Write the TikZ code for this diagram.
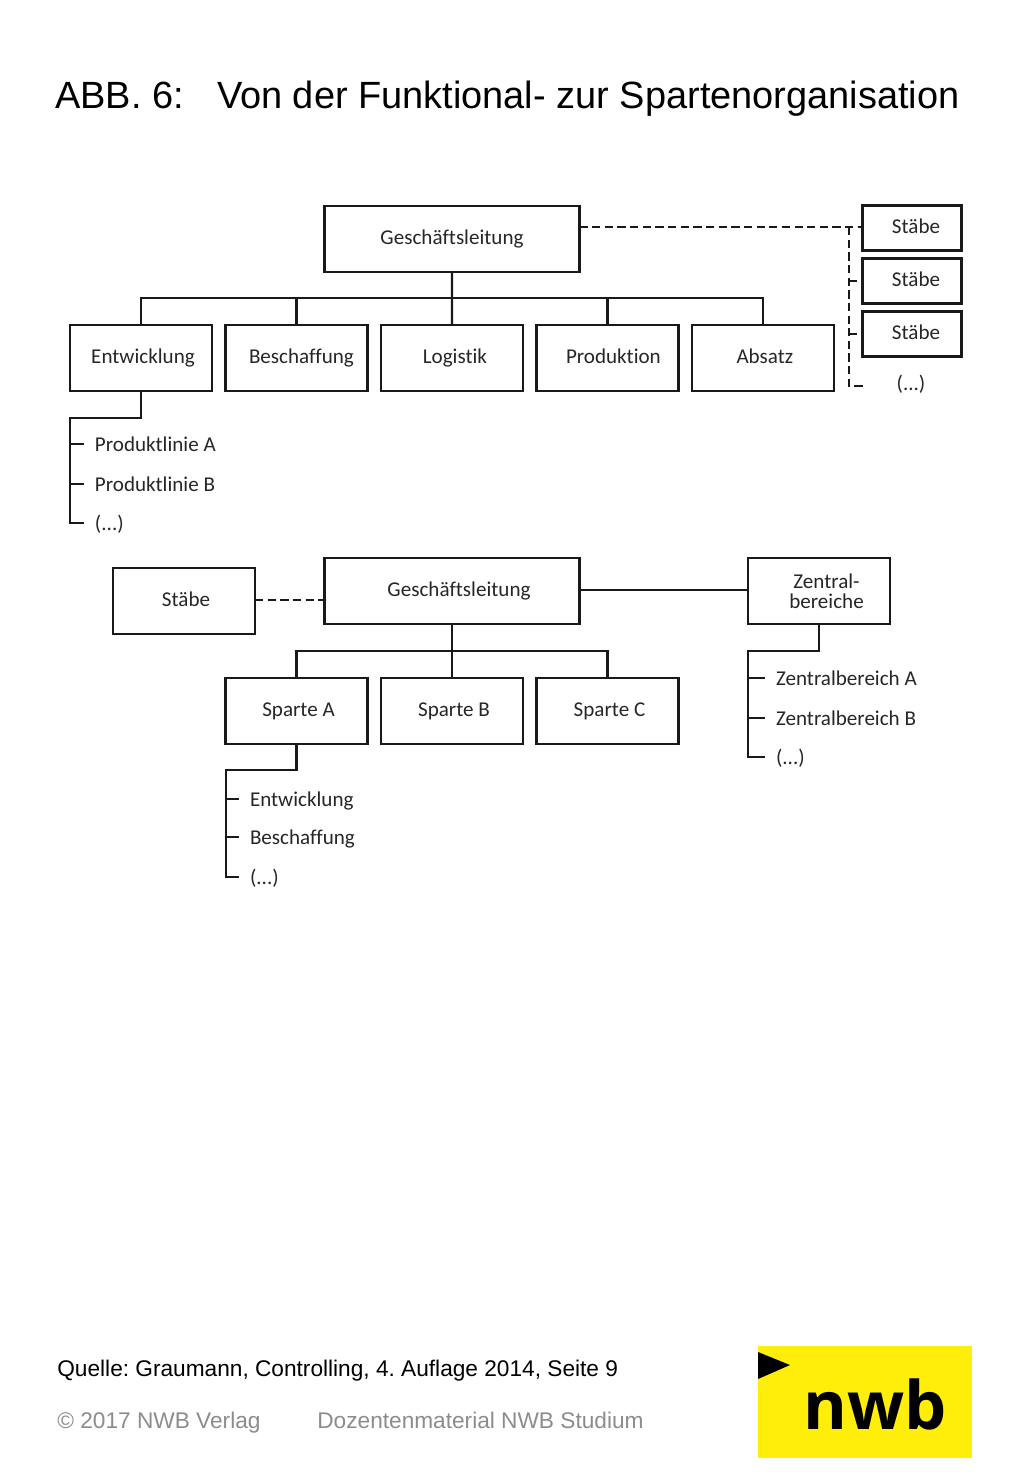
\documentclass[tikz,border=0pt]{standalone}
\usepackage{fontspec}
\setmainfont{Liberation Sans}
\newfontfamily\orgfont[Ligatures=NoCommon]{Carlito}
\newfontfamily\logofont{Open Sans}
\usepackage{xcolor}
\usetikzlibrary{positioning}
\definecolor{nwbyellow}{HTML}{FFED0A}
\definecolor{footgray}{HTML}{8C8C8C}
\newcommand{\orgstrut}{\rule[-2.7pt]{0pt}{11.2pt}}

\begin{document}
\frenchspacing
\begin{tikzpicture}[
  x=0.02cm, y=-0.02cm,
  node distance=0.27cm and 0.27cm,
  orgtext/.style={font=\orgfont\fontsize{12}{11.6}\selectfont, text=black!85},
  orgbox/.style={orgtext, draw=black!90, line width=1.3pt, minimum width=2.84cm, minimum height=1.32cm,
    inner sep=0pt, outer sep=0pt, align=center, execute at begin node=\orgstrut},
  nudge/.style={execute at begin node={\orgstrut\hspace*{#1}}},
  headbox/.style={orgbox, minimum width=5.1cm},
  staffbox/.style={orgbox, minimum width=1.98cm, minimum height=0.9cm},
  leaf/.style={orgtext, anchor=west, inner ysep=0pt, inner xsep=0.22cm, outer sep=0pt,
    text height=8pt, text depth=0pt},
  line/.style={draw=black!90, line width=1.3pt},
  dashline/.style={line, dash pattern=on 4.7pt off 2.5pt},
  foot/.style={anchor=base west, inner sep=0pt, font=\fontsize{12.9}{13}\selectfont},
]
  \useasboundingbox (0,0) rectangle (1024,1479);

  \node (title) [anchor=base west, inner sep=0pt, font=\fontsize{21.6}{24}\selectfont] at (55,109)
    {ABB. 6:\hspace{0.66cm}Von der Funktional- zur Spartenorganisation};

  % upper chart
  \node (gl1) [headbox] at (452,239) {Geschäftsleitung};
  \node (ent) [orgbox, nudge=0.08cm] at (141,358) {Entwicklung};
  \node (bes) [orgbox, nudge=0.2cm, right=of ent] {Beschaffung};
  \node (log) [orgbox, nudge=0.12cm, right=of bes] {Logistik};
  \node (pro) [orgbox, nudge=0.24cm, right=of log] {Produktion};
  \node (abs) [orgbox, nudge=0.08cm, right=of pro] {Absatz};

  \node (st1) [staffbox, nudge=0.16cm] at (912,228) {Stäbe};
  \node (st2) [staffbox, nudge=0.16cm] at (912,281) {Stäbe};
  \node (st3) [staffbox, nudge=0.16cm] at (912,334) {Stäbe};
  \node (st4) [orgtext, inner sep=0pt] at (911,385) {\orgstrut(...)};

  \node (lia) [leaf] at (84,444) {Produktlinie A};
  \node (lib) [leaf] at (84,484) {Produktlinie B};
  \node (lic) [leaf] at (84,523) {(...)};

  \coordinate (bus1) at (452,298);
  \coordinate (knee1) at (70,418);
  \coordinate (dash1) at (849,227);
  \coordinate (dash2) at (863,386);

  \draw[line] (gl1.south) -- (log.north);
  \draw[line] (ent.north) |- (bus1) -| (abs.north);
  \draw[line] (bes.north) -- (bes.north |- bus1);
  \draw[line] (pro.north) -- (pro.north |- bus1);
  \draw[line] (ent.south) |- (knee1) |- (lic.west);
  \draw[line] (knee1 |- lia.west) -- (lia.west);
  \draw[line] (knee1 |- lib.west) -- (lib.west);

  \draw[dashline] (gl1.east |- dash1) -- (st1.west |- dash1);
  \draw[dashline] (dash1) |- (dash2);
  \draw[dashline] (dash1 |- st2.west) -- (st2.west);
  \draw[dashline] (dash1 |- st3.west) -- (st3.west);

  % lower chart
  \node (gl2) [headbox, nudge=0.28cm] at (452,591) {Geschäftsleitung};
  \node (sta) [orgbox, nudge=0.08cm] at (184,601) {Stäbe};
  \node (zen) [orgbox, nudge=0.3cm, text depth=0pt] at (819,591) {Zentral-\\\orgstrut bereiche};
  \node (spb) [orgbox, nudge=0.08cm] at (452,711) {Sparte B};
  \node (spa) [orgbox, nudge=0.08cm, left=of spb] {Sparte A};
  \node (spc) [orgbox, nudge=0.08cm, right=of spb] {Sparte C};

  \node (zea) [leaf] at (765,678) {Zentralbereich A};
  \node (zeb) [leaf] at (765,718) {Zentralbereich B};
  \node (zec) [leaf] at (765,757) {(...)};

  \node (spe) [leaf] at (239,799) {Entwicklung};
  \node (spf) [leaf] at (239,837) {Beschaffung};
  \node (spg) [leaf] at (239,877) {(...)};

  \coordinate (bus2) at (452,651);
  \coordinate (knee2) at (748,651);
  \coordinate (knee3) at (226,770);

  \draw[dashline] (sta.east |- 0,600) -- (gl2.west |- 0,600);
  \draw[line] (gl2.east |- 0,590) -- (zen.west |- 0,590);
  \draw[line] (gl2.south) -- (spb.north);
  \draw[line] (spa.north) |- (bus2) -| (spc.north);
  \draw[line] (zen.south) |- (knee2) |- (zec.west);
  \draw[line] (knee2 |- zea.west) -- (zea.west);
  \draw[line] (knee2 |- zeb.west) -- (zeb.west);
  \draw[line] (spa.south) |- (knee3) |- (spg.west);
  \draw[line] (knee3 |- spe.west) -- (spe.west);
  \draw[line] (knee3 |- spf.west) -- (spf.west);

  % footer
  \node (src) [foot] at (57,1376) {Quelle: Graumann, Controlling, 4. Auflage 2014, Seite 9};
  \node (cpy) [foot, text=footgray] at (57,1428) {© 2017 NWB Verlag};
  \node (doz) [foot, text=footgray] at (317,1428) {Dozentenmaterial NWB Studium};

  \fill[nwbyellow] (758,1346) rectangle (972,1458);
  \fill[black] (758,1352) -- (790,1365) -- (758,1379) -- cycle;
  \node (nwb) [anchor=base, inner sep=0pt, font=\logofont\bfseries\fontsize{38}{38}\selectfont] at (875,1429) {nwb};
\end{tikzpicture}
\end{document}
